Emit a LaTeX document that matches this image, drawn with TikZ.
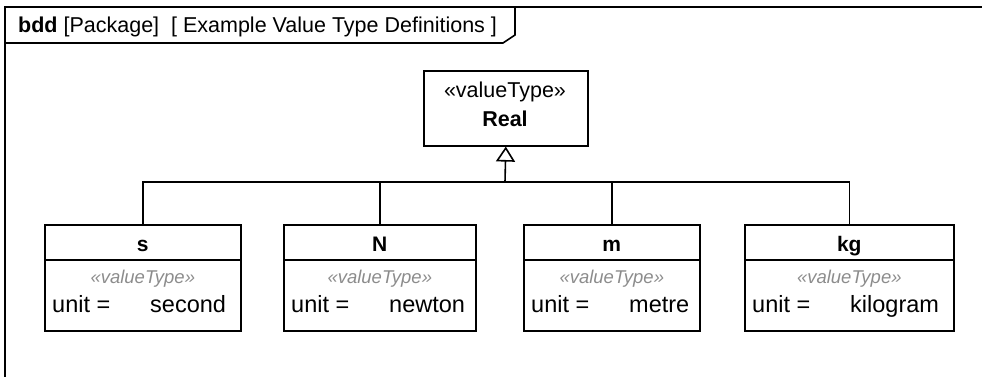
\documentclass[tikz,border=0pt]{standalone}
\usepackage{fontspec}
\setmainfont{Liberation Sans}
\usetikzlibrary{arrows.meta}
\definecolor{stgray}{RGB}{140,140,140}
\tikzset{
  line/.style={line width=1.6pt},
  blockbox/.style={draw, line width=1.6pt, rectangle, inner sep=0pt, anchor=north west},
  nametext/.style={font=\fontsize{21}{24}\selectfont\bfseries, anchor=base, inner sep=0pt},
  sttext/.style={font=\fontsize{18.5}{22}\selectfont\itshape, text=stgray, anchor=base, inner sep=0pt},
  proptext/.style={font=\fontsize{23.5}{28}\selectfont, anchor=base west, inner sep=0pt},
}
\newcommand\valbox[5]{%
  \node[blockbox, minimum width=#3pt, minimum height=106pt] (#1) at (#2,224) {};
  \draw[line] ([yshift=-36pt]#1.north west) -- ([yshift=-36pt]#1.north east);
  \node[nametext] (#1-name) at ([yshift=-27pt]#1.north) {#4};
  \node[sttext] (#1-st) at ([yshift=-59pt]#1.north) {«valueType»};
  \node[proptext] (#1-unit) at ([xshift=8pt,yshift=-88pt]#1.north west) {unit =};
  \node[proptext] (#1-val) at ([xshift=106pt,yshift=-88pt]#1.north west) {#5};
}
\begin{document}
\begin{tikzpicture}[x=1pt,y=-1pt]
\useasboundingbox (0,0) rectangle (982,377);
% frame
\draw[line] (5,380) -- (5,7) -- (985,7);
\draw[line] (5,43) -- (503,43) -- (515,35) -- (515,7);
\node[anchor=base west, inner sep=0pt, font=\fontsize{21.5}{24}\selectfont] (title) at (18,33)
  {\textbf{bdd} [Package]\ \ [ Example Value Type Definitions ]};
% Real
\node[blockbox, minimum width=164pt, minimum height=75pt] (real) at (423,70) {};
\node[font=\fontsize{21.5}{24}\selectfont, anchor=base, inner sep=0pt] (real-st) at (505,98) {«valueType»};
\node[font=\fontsize{21.5}{24}\selectfont\bfseries, anchor=base, inner sep=0pt] (real-name) at (505,127) {Real};
% value types
\valbox{s}{44}{196}{s}{second}
\valbox{N}{283}{192}{N}{newton}
\valbox{m}{523}{176}{m}{metre}
\valbox{kg}{744}{209}{kg}{kilogram}
% generalization tree
\coordinate (j) at (505,182);
\draw[line] (s.north) |- (j);
\draw[line] (N.north) |- (j);
\draw[line] (m.north) |- (j);
\draw[line] (kg.north) |- (j);
\draw[line, -{Triangle[open, width=19pt, length=15pt, line width=1.6pt]}] (j) -- (real.south);
\end{tikzpicture}
\end{document}
